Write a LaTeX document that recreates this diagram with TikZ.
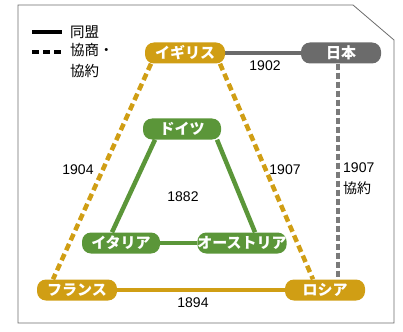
\documentclass[tikz,border=0pt]{standalone}
\usepackage{fontspec}
\usetikzlibrary{backgrounds}
\setmainfont{Liberation Sans}
\newfontfamily\jpfont{Noto Sans CJK JP}
\definecolor{gold}{HTML}{D09E14}
\definecolor{gruen}{HTML}{5B9639}
\definecolor{grau}{HTML}{6B6B6B}
\begin{document}
\begin{tikzpicture}[x=1pt,y=-1pt,
  land/.style={rounded corners=9pt,minimum width=80pt,minimum height=21pt,inner sep=0pt,
    text=white,font=\jpfont\bfseries\fontsize{15}{15}\selectfont},
  jahr/.style={font=\fontsize{14}{14}\selectfont,inner sep=1pt},
  buendnis/.style={line width=4.5pt},
  entente/.style={line width=4.5pt,dash pattern=on 7pt off 4pt},
  legende/.style={font=\jpfont\fontsize{14.5}{16}\selectfont,inner sep=0pt,anchor=west}]
  \useasboundingbox (0,0) rectangle (403,331);

  % Rahmen
  \draw[grau,line width=0.8pt] (18,5) -- (353,5) -- (394,40) -- (394,323) -- (18,323) -- cycle;

  % Legende
  \coordinate (ls1) at (32,32);
  \coordinate (le1) at (62,32);
  \coordinate (ls2) at (32,52);
  \coordinate (le2) at (62,52);
  \draw[line width=4pt] (ls1) -- (le1);
  \draw[line width=3.5pt,dash pattern=on 7pt off 4pt] (ls2) -- (le2);
  \node[legende] (buendnistext) at (70,32) {同盟};
  \node[legende,align=left,anchor=north west] (ententetext) at (70,43) {協商・\\[5pt]協約};

  % Laender
  \node[land,fill=gold] (igirisu) at (185,53) {イギリス};
  \node[land,fill=grau] (nihon) at (341,53) {日本};
  \node[land,fill=gruen,minimum width=78pt] (doitsu) at (182,129) {ドイツ};
  \node[land,fill=gruen,minimum width=78pt] (itaria) at (121,243) {イタリア};
  \node[land,fill=gruen] (osutoria) at (242,243) {オーストリア};
  \node[land,fill=gold] (furansu) at (77,290) {フランス};
  \node[land,fill=gold] (roshia) at (325,290) {ロシア};

  % Verbindungen
  \begin{scope}[on background layer]
    \draw[buendnis,grau] (igirisu) -- (nihon);
    \draw[buendnis,gold] (furansu) -- (roshia);
    \draw[buendnis,gruen] (itaria) -- (osutoria);
    \draw[buendnis,gruen] ([xshift=-27pt]doitsu.south) -- ([xshift=-9pt]itaria.north);
    \draw[buendnis,gruen] ([xshift=35pt]doitsu.south) -- ([xshift=13pt]osutoria.north);
    \draw[entente,gold] ([xshift=-34pt]igirisu.south) -- ([xshift=-24pt]furansu.north);
    \draw[entente,gold] ([xshift=35pt]igirisu.south) -- ([xshift=-12pt]roshia.north);
    \draw[line width=4pt,grau!90,dash pattern=on 6pt off 3pt] ([xshift=-3pt]nihon.south) -- ([xshift=-3pt]nihon.south |- roshia.north);
  \end{scope}

  % Jahreszahlen
  \node[jahr] (j1902) at (265,66) {1902};
  \node[jahr] (j1904) at (78,170) {1904};
  \node[jahr] (j1882) at (183,197) {1882};
  \node[jahr] (j1907) at (285,170) {1907};
  \node[jahr,anchor=west] (j1907b) at (342,168) {1907};
  \node[legende,font=\jpfont\fontsize{14}{14}\selectfont] (kyoyaku) at (343,188) {協約};
  \node[jahr] (j1894) at (193,303) {1894};
\end{tikzpicture}
\end{document}
